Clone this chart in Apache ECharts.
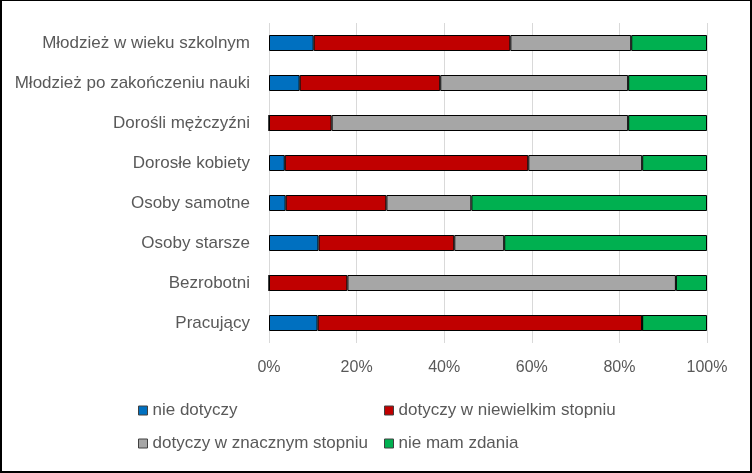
<!DOCTYPE html>
<html>
<head>
<meta charset="utf-8">
<script src="https://cdn.jsdelivr.net/npm/echarts@6/dist/echarts.min.js"></script>
<style>
html,body{margin:0;padding:0;background:#fff;}
#frame{position:absolute;left:0;top:0;width:752px;height:473px;box-sizing:border-box;border-style:solid;border-color:#000;border-width:1px 2px 2px 2px;}
#chart{position:absolute;left:0;top:0;width:752px;height:473px;}
</style>
</head>
<body>
<div id="chart"></div>
<div id="frame"></div>
<script>
const categories = ["Młodzież w wieku szkolnym","Młodzież po zakończeniu nauki","Dorośli mężczyźni","Dorosłe kobiety","Osoby samotne","Osoby starsze","Bezrobotni","Pracujący"];
const seriesNames = ["nie dotyczy","dotyczy w niewielkim stopniu","dotyczy w znacznym stopniu","nie mam zdania"];
const nieDotyczy = [10.2, 7.0, 0, 3.6, 3.8, 11.3, 0, 11.1];
const niewielki = [44.9, 32.1, 14.3, 55.6, 23.0, 31.0, 17.9, 74.1];
const znaczny = [27.6, 42.9, 67.7, 26.0, 19.4, 11.4, 75.0, 0];
const nieMam = [17.3, 18.0, 18.0, 14.8, 53.8, 46.3, 7.1, 14.8];
const tickLabels = ["0%","20%","40%","60%","80%","100%"];

const values = [nieDotyczy, niewielki, znaczny, nieMam];
const colors = ["#0070C0","#C00000","#A6A6A6","#00B050"];
const font = "Liberation Sans";
const chart = echarts.init(document.getElementById('chart'));
const series = seriesNames.map((n,i)=>({
  name:n, type:'bar', stack:'total', barWidth:16,
  data: values[i].slice().reverse(),
  itemStyle:{color:colors[i], borderColor:'#000', borderWidth:1},
  emphasis:{disabled:true}
}));
const legendPos = [
  {left:138, top:402},
  {left:384, top:402},
  {left:138, top:435},
  {left:384, top:435}
];
chart.setOption({
  animation:false,
  grid:{left:269, right:45, top:23, bottom:130, containLabel:false},
  xAxis:{type:'value', min:0, max:100, interval:20,
    axisLabel:{formatter:(v)=>tickLabels[v/20], color:'#595959', fontFamily:font, fontSize:16, margin:17},
    splitLine:{lineStyle:{color:'#D9D9D9', width:1}},
    axisLine:{show:false}, axisTick:{show:false}},
  yAxis:{type:'category', data:categories.slice().reverse(),
    axisLabel:{color:'#595959', fontFamily:font, fontSize:17, margin:19},
    axisLine:{show:false}, axisTick:{show:false}},
  legend: seriesNames.map((n,i)=>({
    data:[{name:n, icon:'rect'}], left:legendPos[i].left, top:legendPos[i].top,
    itemWidth:9, itemHeight:9, itemGap:6, padding:0,
    textStyle:{color:'#595959', fontFamily:font, fontSize:17},
    itemStyle:{borderColor:'#404040', borderWidth:1},
    selectedMode:false
  })),
  series
});
</script>
</body>
</html>
